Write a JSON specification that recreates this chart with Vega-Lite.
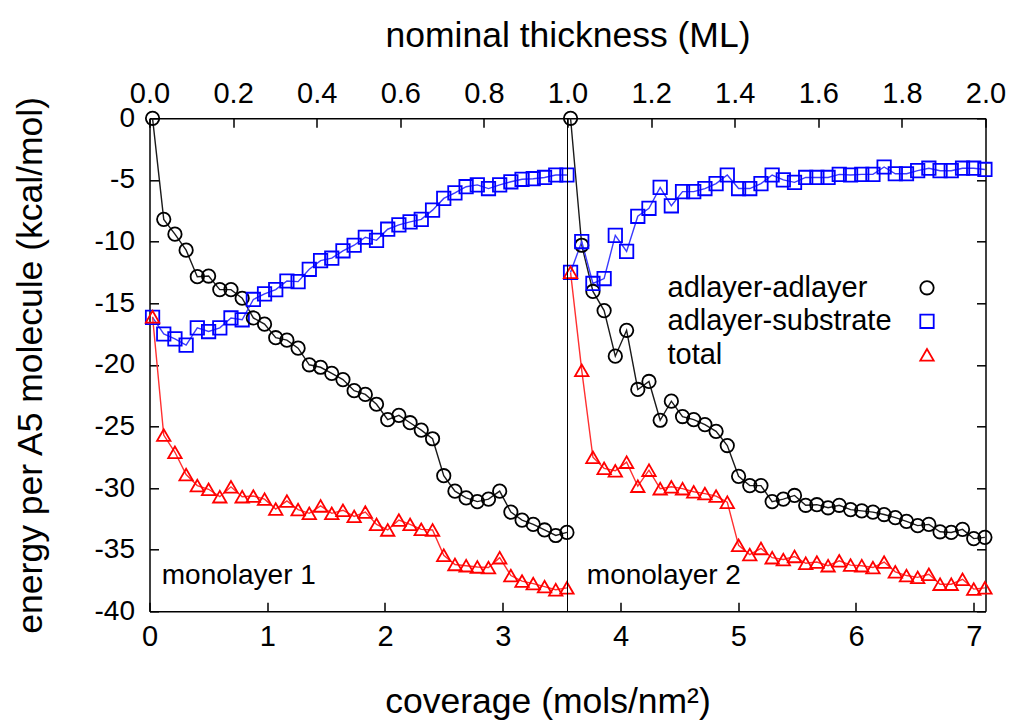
{
  "$schema": "https://vega.github.io/schema/vega-lite/v6.json",
  "width": 836,
  "height": 493,
  "autosize": {"type": "none"},
  "padding": {"left": 149.5, "top": 118.3, "right": 26.5, "bottom": 108.2},
  "background": "white",
  "config": {
    "font": "Liberation Sans",
    "view": {"stroke": null},
    "axis": {
      "grid": false,
      "domainColor": "#000000",
      "domainWidth": 1.5,
      "tickColor": "#000000",
      "tickWidth": 1.5,
      "tickSize": -9,
      "labelColor": "#000000",
      "titleColor": "#000000",
      "labelFontSize": 29,
      "titleFontSize": 35.5,
      "titleFontWeight": "normal",
      "labelFont": "Liberation Sans",
      "titleFont": "Liberation Sans",
      "labelFlush": false,
      "labelOverlap": false
    }
  },
  "datasets": {
    "pts": [
      {"c": 0.026, "m": 1, "adlayer-adlayer": 0, "adlayer-substrate": -16.15, "total": -16.1},
      {"c": 0.121, "m": 1, "adlayer-adlayer": -8.2, "adlayer-substrate": -17.5, "total": -25.7},
      {"c": 0.216, "m": 1, "adlayer-adlayer": -9.4, "adlayer-substrate": -17.9, "total": -27.1},
      {"c": 0.311, "m": 1, "adlayer-adlayer": -10.7, "adlayer-substrate": -18.4, "total": -28.9},
      {"c": 0.406, "m": 1, "adlayer-adlayer": -12.85, "adlayer-substrate": -17.0, "total": -29.8},
      {"c": 0.502, "m": 1, "adlayer-adlayer": -12.8, "adlayer-substrate": -17.3, "total": -30.1},
      {"c": 0.597, "m": 1, "adlayer-adlayer": -13.9, "adlayer-substrate": -17.0, "total": -30.7},
      {"c": 0.692, "m": 1, "adlayer-adlayer": -13.9, "adlayer-substrate": -16.2, "total": -29.9},
      {"c": 0.787, "m": 1, "adlayer-adlayer": -14.6, "adlayer-substrate": -16.35, "total": -30.7},
      {"c": 0.882, "m": 1, "adlayer-adlayer": -16.2, "adlayer-substrate": -14.7, "total": -30.65},
      {"c": 0.977, "m": 1, "adlayer-adlayer": -16.7, "adlayer-substrate": -14.25, "total": -30.9},
      {"c": 1.072, "m": 1, "adlayer-adlayer": -17.8, "adlayer-substrate": -13.9, "total": -31.7},
      {"c": 1.167, "m": 1, "adlayer-adlayer": -18.0, "adlayer-substrate": -13.2, "total": -31.05},
      {"c": 1.262, "m": 1, "adlayer-adlayer": -18.65, "adlayer-substrate": -13.25, "total": -31.75},
      {"c": 1.357, "m": 1, "adlayer-adlayer": -20.0, "adlayer-substrate": -12.25, "total": -32.05},
      {"c": 1.453, "m": 1, "adlayer-adlayer": -20.2, "adlayer-substrate": -11.55, "total": -31.45},
      {"c": 1.548, "m": 1, "adlayer-adlayer": -20.7, "adlayer-substrate": -11.35, "total": -32.05},
      {"c": 1.643, "m": 1, "adlayer-adlayer": -21.2, "adlayer-substrate": -10.75, "total": -31.8},
      {"c": 1.738, "m": 1, "adlayer-adlayer": -22.1, "adlayer-substrate": -10.3, "total": -32.3},
      {"c": 1.833, "m": 1, "adlayer-adlayer": -22.4, "adlayer-substrate": -9.65, "total": -31.95},
      {"c": 1.928, "m": 1, "adlayer-adlayer": -23.2, "adlayer-substrate": -9.9, "total": -32.95},
      {"c": 2.023, "m": 1, "adlayer-adlayer": -24.45, "adlayer-substrate": -9.0, "total": -33.4},
      {"c": 2.118, "m": 1, "adlayer-adlayer": -24.1, "adlayer-substrate": -8.65, "total": -32.6},
      {"c": 2.213, "m": 1, "adlayer-adlayer": -24.7, "adlayer-substrate": -8.4, "total": -32.95},
      {"c": 2.308, "m": 1, "adlayer-adlayer": -25.3, "adlayer-substrate": -8.2, "total": -33.35},
      {"c": 2.404, "m": 1, "adlayer-adlayer": -26.0, "adlayer-substrate": -7.45, "total": -33.4},
      {"c": 2.499, "m": 1, "adlayer-adlayer": -29.0, "adlayer-substrate": -6.5, "total": -35.45},
      {"c": 2.594, "m": 1, "adlayer-adlayer": -30.25, "adlayer-substrate": -6.05, "total": -36.2},
      {"c": 2.689, "m": 1, "adlayer-adlayer": -30.8, "adlayer-substrate": -5.55, "total": -36.3},
      {"c": 2.784, "m": 1, "adlayer-adlayer": -31.1, "adlayer-substrate": -5.4, "total": -36.4},
      {"c": 2.879, "m": 1, "adlayer-adlayer": -30.9, "adlayer-substrate": -5.7, "total": -36.45},
      {"c": 2.974, "m": 1, "adlayer-adlayer": -30.25, "adlayer-substrate": -5.4, "total": -35.65},
      {"c": 3.069, "m": 1, "adlayer-adlayer": -31.95, "adlayer-substrate": -5.15, "total": -37.1},
      {"c": 3.164, "m": 1, "adlayer-adlayer": -32.6, "adlayer-substrate": -4.95, "total": -37.55},
      {"c": 3.259, "m": 1, "adlayer-adlayer": -32.95, "adlayer-substrate": -4.9, "total": -37.75},
      {"c": 3.355, "m": 1, "adlayer-adlayer": -33.4, "adlayer-substrate": -4.8, "total": -38.0},
      {"c": 3.450, "m": 1, "adlayer-adlayer": -33.85, "adlayer-substrate": -4.6, "total": -38.25},
      {"c": 3.545, "m": 1, "adlayer-adlayer": -33.6, "adlayer-substrate": -4.6, "total": -38.1},
      {"c": 3.576, "m": 2, "adlayer-adlayer": 0, "adlayer-substrate": -12.5, "total": -12.5},
      {"c": 3.671, "m": 2, "adlayer-adlayer": -10.3, "adlayer-substrate": -10.0, "total": -20.45},
      {"c": 3.766, "m": 2, "adlayer-adlayer": -14.05, "adlayer-substrate": -13.4, "total": -27.5},
      {"c": 3.861, "m": 2, "adlayer-adlayer": -15.6, "adlayer-substrate": -13.0, "total": -28.4},
      {"c": 3.956, "m": 2, "adlayer-adlayer": -19.3, "adlayer-substrate": -9.5, "total": -28.6},
      {"c": 4.052, "m": 2, "adlayer-adlayer": -17.2, "adlayer-substrate": -10.8, "total": -27.9},
      {"c": 4.147, "m": 2, "adlayer-adlayer": -22.0, "adlayer-substrate": -7.95, "total": -29.85},
      {"c": 4.242, "m": 2, "adlayer-adlayer": -21.35, "adlayer-substrate": -7.3, "total": -28.55},
      {"c": 4.337, "m": 2, "adlayer-adlayer": -24.5, "adlayer-substrate": -5.6, "total": -30.05},
      {"c": 4.432, "m": 2, "adlayer-adlayer": -22.95, "adlayer-substrate": -7.1, "total": -29.9},
      {"c": 4.527, "m": 2, "adlayer-adlayer": -24.2, "adlayer-substrate": -5.95, "total": -30.05},
      {"c": 4.622, "m": 2, "adlayer-adlayer": -24.45, "adlayer-substrate": -5.95, "total": -30.3},
      {"c": 4.717, "m": 2, "adlayer-adlayer": -24.85, "adlayer-substrate": -5.7, "total": -30.45},
      {"c": 4.812, "m": 2, "adlayer-adlayer": -25.4, "adlayer-substrate": -5.3, "total": -30.65},
      {"c": 4.907, "m": 2, "adlayer-adlayer": -26.55, "adlayer-substrate": -4.6, "total": -31.15},
      {"c": 5.003, "m": 2, "adlayer-adlayer": -29.05, "adlayer-substrate": -5.7, "total": -34.65},
      {"c": 5.098, "m": 2, "adlayer-adlayer": -29.8, "adlayer-substrate": -5.7, "total": -35.4},
      {"c": 5.193, "m": 2, "adlayer-adlayer": -29.8, "adlayer-substrate": -5.3, "total": -34.9},
      {"c": 5.288, "m": 2, "adlayer-adlayer": -31.1, "adlayer-substrate": -4.6, "total": -35.65},
      {"c": 5.383, "m": 2, "adlayer-adlayer": -30.9, "adlayer-substrate": -5.0, "total": -35.8},
      {"c": 5.478, "m": 2, "adlayer-adlayer": -30.6, "adlayer-substrate": -5.2, "total": -35.55},
      {"c": 5.573, "m": 2, "adlayer-adlayer": -31.4, "adlayer-substrate": -4.8, "total": -36.1},
      {"c": 5.668, "m": 2, "adlayer-adlayer": -31.35, "adlayer-substrate": -4.8, "total": -36.0},
      {"c": 5.763, "m": 2, "adlayer-adlayer": -31.6, "adlayer-substrate": -4.8, "total": -36.3},
      {"c": 5.858, "m": 2, "adlayer-adlayer": -31.4, "adlayer-substrate": -4.55, "total": -35.9},
      {"c": 5.954, "m": 2, "adlayer-adlayer": -31.75, "adlayer-substrate": -4.6, "total": -36.25},
      {"c": 6.049, "m": 2, "adlayer-adlayer": -31.85, "adlayer-substrate": -4.55, "total": -36.3},
      {"c": 6.144, "m": 2, "adlayer-adlayer": -31.95, "adlayer-substrate": -4.55, "total": -36.45},
      {"c": 6.239, "m": 2, "adlayer-adlayer": -32.15, "adlayer-substrate": -3.95, "total": -36.0},
      {"c": 6.334, "m": 2, "adlayer-adlayer": -32.4, "adlayer-substrate": -4.5, "total": -36.8},
      {"c": 6.429, "m": 2, "adlayer-adlayer": -32.7, "adlayer-substrate": -4.5, "total": -37.1},
      {"c": 6.524, "m": 2, "adlayer-adlayer": -33.05, "adlayer-substrate": -4.25, "total": -37.25},
      {"c": 6.619, "m": 2, "adlayer-adlayer": -32.95, "adlayer-substrate": -4.05, "total": -37.0},
      {"c": 6.714, "m": 2, "adlayer-adlayer": -33.55, "adlayer-substrate": -4.25, "total": -37.8},
      {"c": 6.809, "m": 2, "adlayer-adlayer": -33.6, "adlayer-substrate": -4.25, "total": -37.8},
      {"c": 6.905, "m": 2, "adlayer-adlayer": -33.35, "adlayer-substrate": -4.05, "total": -37.4},
      {"c": 7.000, "m": 2, "adlayer-adlayer": -34.1, "adlayer-substrate": -4.05, "total": -38.2},
      {"c": 7.095, "m": 2, "adlayer-adlayer": -34.0, "adlayer-substrate": -4.15, "total": -38.1}
    ],
    "thick": [{"t": 0}, {"t": 2}],
    "divider": [{"c": 3.55}],
    "notes": [
      {"label": "monolayer 1", "c": 0.104, "e": -37.15},
      {"label": "monolayer 2", "c": 3.714, "e": -37.15}
    ]
  },
  "layer": [
    {
      "data": {"name": "thick"},
      "mark": {"type": "point", "opacity": 0},
      "encoding": {
        "x": {
          "field": "t",
          "type": "quantitative",
          "scale": {"domain": [0, 2], "nice": false, "zero": false},
          "axis": {
            "orient": "top",
            "title": "nominal thickness (ML)",
            "values": [0, 0.2, 0.4, 0.6, 0.8, 1.0, 1.2, 1.4, 1.6, 1.8, 2.0],
            "format": ".1f",
            "labelPadding": 19,
            "titleX": 418,
            "titleY": -83,
            "titleBaseline": "middle"
          }
        }
      }
    },
    {
      "layer": [
        {
          "data": {"name": "pts"},
          "transform": [{"fold": ["adlayer-adlayer", "adlayer-substrate", "total"], "as": ["series", "e"]}],
          "mark": {"type": "line", "strokeWidth": 1.4},
          "encoding": {
            "x": {
              "field": "c",
              "type": "quantitative",
              "scale": {"domain": [0, 7.1], "nice": false, "zero": false},
              "axis": {
                "orient": "bottom",
                "title": "coverage (mols/nm²)",
                "values": [0, 1, 2, 3, 4, 5, 6, 7],
                "format": "d",
                "labelPadding": 20,
                "titleX": 398,
                "titleY": 90,
                "titleBaseline": "middle"
              }
            },
            "y": {
              "field": "e",
              "type": "quantitative",
              "scale": {"domain": [-40, 0], "nice": false, "zero": false},
              "axis": {
                "orient": "left",
                "title": "energy per A5 molecule (kcal/mol)",
                "values": [-40, -35, -30, -25, -20, -15, -10, -5, 0],
                "labelExpr": "'' + datum.value",
                "labelFontSize": 28,
                "labelPadding": 24,
                "titleX": -119.5,
                "titleBaseline": "middle"
              }
            },
            "stroke": {
              "field": "series",
              "type": "nominal",
              "scale": {"range": ["#1a1a1a", "#3a3aff", "#ff3030"]},
              "legend": null
            },
            "detail": {"field": "m", "type": "nominal"}
          }
        },
        {
          "data": {"name": "pts"},
          "transform": [{"fold": ["adlayer-adlayer", "adlayer-substrate", "total"], "as": ["series", "e"]}],
          "mark": {"type": "point", "filled": false, "size": 180, "strokeWidth": 1.8, "opacity": 1},
          "encoding": {
            "x": {"field": "c", "type": "quantitative", "scale": {"domain": [0, 7.1], "nice": false, "zero": false}},
            "y": {"field": "e", "type": "quantitative", "scale": {"domain": [-40, 0], "nice": false, "zero": false}, "axis": null},
            "color": {
              "field": "series",
              "type": "nominal",
              "scale": {"domain": ["adlayer-adlayer", "adlayer-substrate", "total"], "range": ["#000000", "#0000ff", "#ff0000"]},
              "legend": {
                "title": null,
                "orient": "none",
                "legendX": 763,
                "legendY": 155,
                "labelFontSize": 29,
                "labelFont": "Liberation Sans",
                "labelColor": "#000000",
                "labelOffset": -274,
                "labelLimit": 400,
                "symbolSize": 180,
                "symbolStrokeWidth": 1.8,
                "rowPadding": 3.5
              }
            },
            "shape": {
              "field": "series",
              "type": "nominal",
              "scale": {"domain": ["adlayer-adlayer", "adlayer-substrate", "total"], "range": ["circle", "square", "triangle-up"]},
              "legend": {
                "title": null,
                "orient": "none",
                "legendX": 763,
                "legendY": 155,
                "labelFontSize": 29,
                "labelFont": "Liberation Sans",
                "labelColor": "#000000",
                "labelOffset": -274,
                "labelLimit": 400,
                "symbolSize": 180,
                "symbolStrokeWidth": 1.8,
                "rowPadding": 3.5
              }
            }
          }
        },
        {
          "data": {"name": "pts"},
          "mark": {"type": "point", "opacity": 0},
          "encoding": {
            "x": {"field": "c", "type": "quantitative", "scale": {"domain": [0, 7.1], "nice": false, "zero": false}},
            "y": {
              "field": "total",
              "type": "quantitative",
              "scale": {"domain": [-40, 0], "nice": false, "zero": false},
              "axis": {"orient": "right", "title": null, "labels": false, "values": [-40, -35, -30, -25, -20, -15, -10, -5, 0]}
            }
          }
        },
        {
          "data": {"name": "divider"},
          "mark": {"type": "rule", "color": "#000000", "strokeWidth": 1},
          "encoding": {
            "x": {"field": "c", "type": "quantitative", "scale": {"domain": [0, 7.1], "nice": false, "zero": false}}
          }
        },
        {
          "data": {"name": "notes"},
          "mark": {"type": "text", "align": "left", "baseline": "middle", "fontSize": 28, "font": "Liberation Sans", "color": "#000000"},
          "encoding": {
            "x": {"field": "c", "type": "quantitative", "scale": {"domain": [0, 7.1], "nice": false, "zero": false}},
            "y": {"field": "e", "type": "quantitative", "scale": {"domain": [-40, 0], "nice": false, "zero": false}, "axis": null},
            "text": {"field": "label", "type": "nominal"}
          }
        }
      ],
      "resolve": {"axis": {"y": "independent"}}
    }
  ],
  "resolve": {"scale": {"x": "independent"}}
}
